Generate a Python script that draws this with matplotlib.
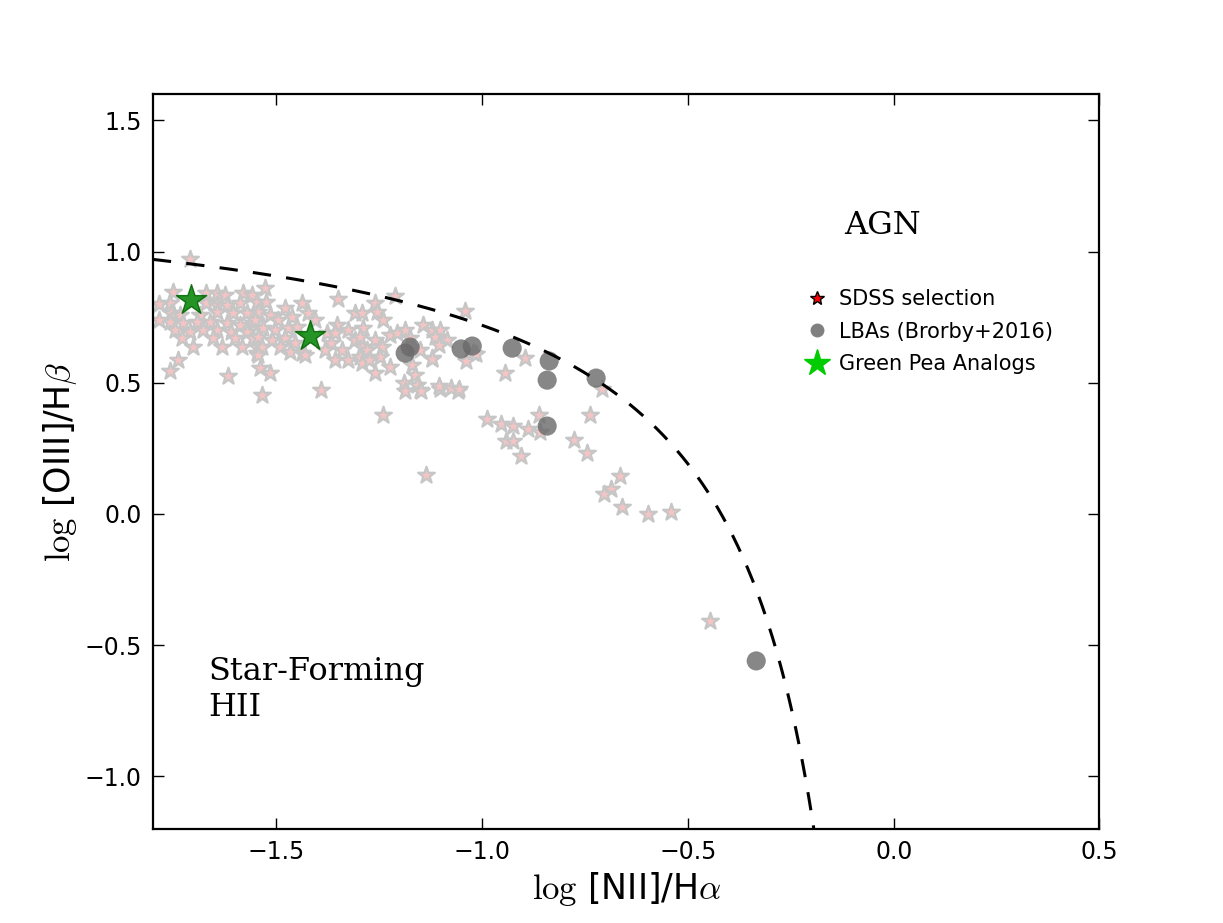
import numpy as np
import matplotlib
matplotlib.use("Agg")
import matplotlib.pyplot as plt
from matplotlib.lines import Line2D

plt.rcParams["mathtext.fontset"] = "cm"

# SDSS selection (log [NII]/Ha, log [OIII]/Hb)
sdss_x = [-1.710,
          -1.751, -1.670, -1.645, -1.625, -1.580, -1.560,
          -1.759, -1.670, -1.645, -1.621, -1.588, -1.548,
          -1.755, -1.734, -1.686, -1.645, -1.605, -1.572,
          -1.759, -1.726, -1.694, -1.661, -1.621, -1.588, -1.556,
          -1.746, -1.710, -1.678, -1.645, -1.609, -1.572,
          -1.730, -1.653, -1.601, -1.556,
          -1.702, -1.633, -1.584, -1.548,
          -1.738, -1.759, -1.617, -1.548, -1.535, -1.785, -1.785,
          -1.528, -1.349, -1.438, -1.479, -1.524, -1.544, -1.516, -1.552, -1.495, -1.463, -1.422, -1.406,
          -1.532, -1.503, -1.471, -1.451,
          -1.544, -1.511, -1.479, -1.455,
          -1.536, -1.491, -1.467, -1.438, -1.544,
          -1.540, -1.516, -1.392,
          -1.353, -1.378, -1.357, -1.325, -1.309,
          -1.366, -1.341, -1.309, -1.293, -1.382,
          -1.357, -1.325, -1.297, -1.293, -1.430,
          -1.212, -1.041, -1.260, -1.256, -1.240, -1.293, -1.289, -1.297, -1.260, -1.244, -1.280, -1.248,
          -1.224, -1.260, -1.276,
          -1.224, -1.208, -1.187, -1.175, -1.167, -1.151, -1.143, -1.122, -1.102, -1.114, -1.086, -1.106,
          -1.122, -1.171, -1.163, -1.191, -1.159, -1.151, -1.021,
          -1.240, -1.136, -1.187, -1.149, -1.102, -1.058,
          -0.897, -1.015, -1.039, -1.122, -0.945, -1.104, -1.076, -1.055,
          -0.987, -0.955, -0.925, -0.889, -0.862, -0.859, -0.942, -0.924, -0.905,
          -0.776, -0.746, -0.739, -0.709, -0.666, -0.686, -0.705, -0.661, -0.596, -0.541, -0.446]
sdss_y = [0.970,
          0.847, 0.841, 0.841, 0.834, 0.841, 0.834,
          0.803, 0.803, 0.796, 0.796, 0.803, 0.809,
          0.765, 0.758, 0.758, 0.771, 0.765, 0.765,
          0.733, 0.726, 0.733, 0.733, 0.726, 0.720, 0.726,
          0.701, 0.695, 0.701, 0.701, 0.695, 0.695,
          0.669, 0.669, 0.669, 0.669,
          0.637, 0.637, 0.637, 0.637,
          0.587, 0.546, 0.526, 0.612, 0.453, 0.800, 0.740,
          0.860, 0.818, 0.803, 0.784, 0.809, 0.771, 0.758, 0.739, 0.739, 0.752, 0.765, 0.739,
          0.707, 0.701, 0.707, 0.714,
          0.675, 0.663, 0.669, 0.650,
          0.637, 0.637, 0.618, 0.612, 0.606,
          0.555, 0.536, 0.472,
          0.720, 0.688, 0.688, 0.701, 0.765,
          0.650, 0.625, 0.663, 0.637, 0.625,
          0.587, 0.587, 0.599, 0.574, 0.606,
          0.830, 0.775, 0.803, 0.771, 0.739, 0.765, 0.707, 0.675, 0.663, 0.637, 0.625, 0.599,
          0.561, 0.536, 0.587,
          0.682, 0.688, 0.701, 0.669, 0.637, 0.625, 0.720, 0.701, 0.701, 0.675, 0.663, 0.644,
          0.593, 0.568, 0.530, 0.498, 0.491, 0.472, 0.612,
          0.377, 0.149, 0.470, 0.470, 0.478, 0.470,
          0.595, 0.608, 0.583, 0.589, 0.538, 0.488, 0.481, 0.477,
          0.361, 0.343, 0.336, 0.325, 0.377, 0.314, 0.279, 0.279, 0.221,
          0.282, 0.231, 0.377, 0.477, 0.145, 0.094, 0.076, 0.026, 0.000, 0.009, -0.408]

# LBAs (Brorby+2016)
lba_x = [-1.187, -1.175, -1.051, -1.024, -0.927, -0.837, -0.842, -0.842, -0.723, -0.334]
lba_y = [0.613, 0.636, 0.629, 0.640, 0.632, 0.583, 0.510, 0.335, 0.518, -0.560]

# Green Pea Analogs
gp_x = [-1.708, -1.418]
gp_y = [0.815, 0.678]

fig = plt.figure(figsize=(12.23, 9.23), dpi=100)
ax = fig.add_axes([0.125, 0.102, 0.774, 0.796])

ax.scatter(sdss_x, sdss_y, s=160, marker="*", c="#f5c4c4", edgecolors="#c6c6c6",
           linewidths=1.6, zorder=2)
ax.scatter(lba_x, lba_y, s=190, marker="o", c="dimgray", edgecolors="none",
           alpha=0.8, zorder=3)
ax.scatter(gp_x, gp_y, s=520, marker="*", c="green", edgecolors="darkgreen",
           linewidths=1, alpha=0.85, zorder=4)

# Kauffmann et al. (2003) demarcation
kx = np.linspace(-1.8, -0.19, 400)
ax.plot(kx, 0.61 / (kx - 0.05) + 1.3, "k--", lw=2.2, dashes=(6, 5), zorder=5)

ax.set_xlim(-1.8, 0.5)
ax.set_ylim(-1.2, 1.6)
ax.set_xticks([-1.5, -1.0, -0.5, 0.0, 0.5])
ax.set_yticks([-1.0, -0.5, 0.0, 0.5, 1.0, 1.5])
ax.tick_params(direction="in", top=True, right=True, length=8, width=1,
               labelsize=17, pad=8)
for sp in ax.spines.values():
    sp.set_linewidth(1.6)

ax.set_xlabel(r"$\mathrm{log}$ [NII]/H$\alpha$", fontsize=25)
ax.set_ylabel(r"$\mathrm{log}$ [OIII]/H$\beta$", fontsize=25)

ax.text(-0.12, 1.1, "AGN", family="DejaVu Serif", fontsize=23, va="center")
ax.text(-1.665, -0.67, "Star-Forming\nHII", family="DejaVu Serif", fontsize=23,
        va="center", linespacing=1.2)

handles = [
    Line2D([], [], ls="none", marker="*", ms=10, mfc="red", mec="black", mew=1),
    Line2D([], [], ls="none", marker="o", ms=10, mfc="gray", mec="none"),
    Line2D([], [], ls="none", marker="*", ms=20, mfc="#00cc00", mec="#00cc00"),
]
ax.legend(handles, ["SDSS selection", "LBAs (Brorby+2016)", "Green Pea Analogs"],
          loc="upper left", bbox_to_anchor=(0.665, 0.76), frameon=False,
          fontsize=15, handletextpad=0.3, handlelength=1.5, labelspacing=0.6)

fig.savefig("out.png", dpi=100)
